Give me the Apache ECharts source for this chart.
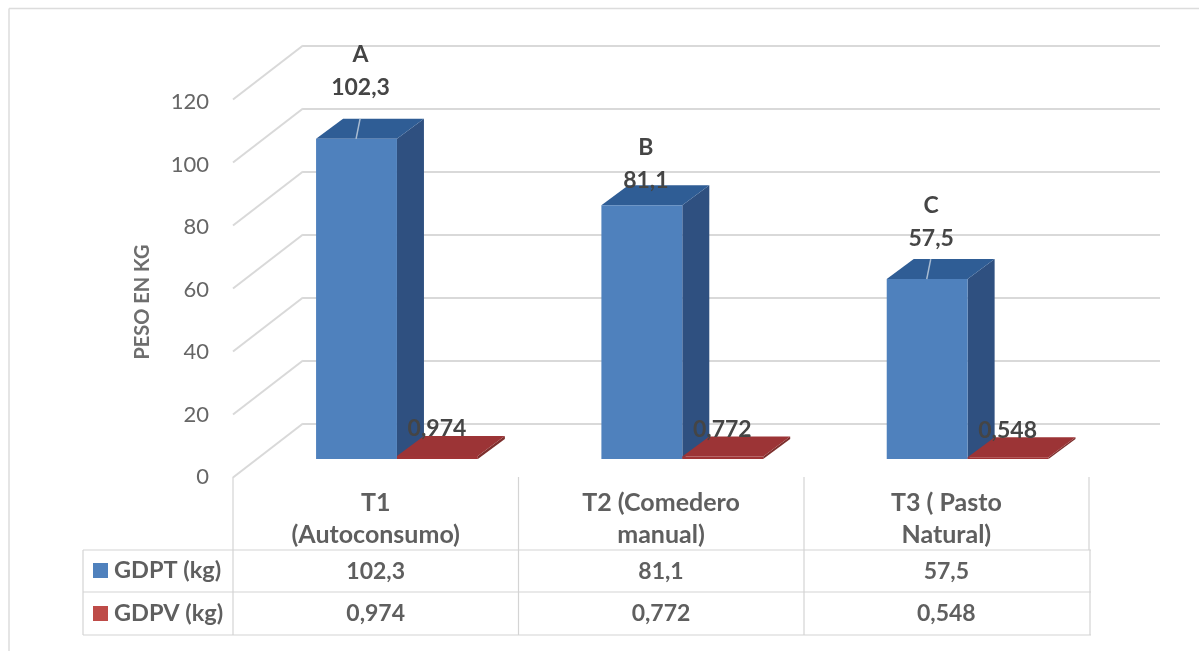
<!DOCTYPE html>
<html>
<head>
<meta charset="utf-8">
<style>html,body{margin:0;padding:0;background:#fff}#c{width:1199px;height:651px}</style>
<script src="https://cdn.jsdelivr.net/npm/echarts@6/dist/echarts.min.js"></script>
</head>
<body>
<div id="c"></div>
<script>
const categories = ['T1\n(Autoconsumo)', 'T2 (Comedero\nmanual)', 'T3 ( Pasto\nNatural)'];
const gdpt = [102.3, 81.1, 57.5];
const gdpv = [0.974, 0.772, 0.548];
const letters = ['A', 'B', 'C'];
const yTicks = [0, 20, 40, 60, 80, 100, 120];
const seriesNames = ['GDPT (kg)', 'GDPV (kg)'];
const axisTitle = 'PESO EN KG';

// layout constants (not data)
const FONT = 'Lato, "Open Sans", sans-serif';
const TXT = '#5f5f5f', DARK = '#454545', LINE = '#d9d9d9';
const DX = 27, DY = -20;
const labelLift = [51, 25, 40];
const leader = [true, false, true];
const comma = (v) => String(v).replace('.', ',');

const chart = echarts.init(document.getElementById('c'), null, {renderer: 'canvas'});

function poly(points, fill) {
  return {type: 'polygon', shape: {points}, style: {fill}};
}
function bar3d(params, api, off, colors) {
  const i = api.value(0);
  const c = api.coord([i, api.value(1)]);
  const b = api.coord([i, 0]);
  const w = api.size([1, 0])[0] * 0.2835;
  const xl = c[0] + off * w - w * 0.7368, xr = xl + w;
  const t = c[1], base = b[1];
  return {
    type: 'group',
    children: [
      poly([[xr, t], [xr + DX, t + DY], [xr + DX, base + DY], [xr, base]], colors.side),
      poly([[xl, t], [xl + DX, t + DY], [xr + DX, t + DY], [xr, t]], colors.top),
      poly([[xl, t], [xr, t], [xr, base], [xl, base]], colors.front)
    ]
  };
}

const option = {
  animation: false,
  backgroundColor: '#fff',
  grid: [
    {left: 233, width: 856, top: 102, height: 375},      // front axis + table columns
    {left: 233, width: 856, top: 83.4, height: 375.6},   // bars
    {left: 303, width: 857, top: 45.5, height: 378}      // back wall
  ],
  xAxis: [
    {gridIndex: 0, type: 'category', data: categories, axisLine: {show: false}, axisTick: {show: false},
     axisLabel: {color: TXT, fontFamily: FONT, fontSize: 25, lineHeight: 32, margin: 10, fontWeight: 'bold', interval: 0}},
    {gridIndex: 1, type: 'category', data: categories, show: false},
    {gridIndex: 2, type: 'category', data: categories, show: false}
  ],
  yAxis: [
    {gridIndex: 0, type: 'value', min: 0, max: 120, interval: 20, axisLine: {show: false}, axisTick: {show: false}, splitLine: {show: false},
     axisLabel: {color: '#666666', fontFamily: FONT, fontSize: 22, margin: 24, padding: [4, 0, 0, 0]}},
    {gridIndex: 1, type: 'value', min: 0, max: 120, interval: 20, show: false, splitLine: {show: false}},
    {gridIndex: 2, type: 'value', min: 0, max: 120, interval: 20, axisLine: {show: false}, axisTick: {show: false}, axisLabel: {show: false},
     splitLine: {show: true, lineStyle: {color: LINE, width: 2}}}
  ],
  series: [
    { // wall slants
      type: 'custom', name: 'slants', xAxisIndex: 2, yAxisIndex: 2, z: 1, silent: true,
      data: yTicks.map(v => [0, v]),
      encode: {x: 0, y: 1},
      renderItem(params, api) {
        const y = api.coord([0, api.value(1)])[1];
        const x = params.coordSys.x;
        return {type: 'line', shape: {x1: x - 70, y1: y + 54, x2: x, y2: y}, style: {stroke: LINE, lineWidth: 2}};
      }
    },
    { // GDPT bars
      type: 'custom', name: seriesNames[0], xAxisIndex: 1, yAxisIndex: 1, z: 3, silent: true,
      data: gdpt.map((v, i) => [i, v]),
      encode: {x: 0, y: 1},
      renderItem(params, api) {
        const g = bar3d(params, api, 0, {front: '#4f81bd', top: '#2f5d95', side: '#2f5080'});
        if (leader[params.dataIndex]) {
          const i = api.value(0), p = api.coord([i, api.value(1)]);
          const w = api.size([1, 0])[0] * 0.2835;
          g.children.push({type: 'line', shape: {x1: p[0] - w * 0.7368 + 40, y1: p[1], x2: p[0] - w * 0.7368 + 44, y2: p[1] + DY},
            style: {stroke: '#a9bcd2', lineWidth: 1.5}});
        }
        return g;
      }
    },
    { // GDPV bars
      type: 'custom', name: seriesNames[1], xAxisIndex: 1, yAxisIndex: 1, z: 4, silent: true,
      data: gdpv.map((v, i) => [i, v]),
      encode: {x: 0, y: 1},
      renderItem(params, api) {
        return bar3d(params, api, 1, {front: '#a03436', top: '#9c3436', side: '#7d2f2d'});
      }
    },
    { // data labels over GDPT bars
      type: 'custom', name: 'labelsT', xAxisIndex: 1, yAxisIndex: 1, z: 6, silent: true,
      data: gdpt.map((v, i) => [i, v]),
      encode: {x: 0, y: 1},
      renderItem(params, api) {
        const i = params.dataIndex, p = api.coord([i, api.value(1)]);
        const w = api.size([1, 0])[0] * 0.2835;
        const x = p[0] - w * 0.7368 + w / 2 + 4;
        const y = p[1] - labelLift[i];
        return {type: 'group', children: [
          {type: 'text', x, y: y - 33, style: {text: letters[i], font: 'bold 23px ' + FONT, fill: DARK, textAlign: 'center', textVerticalAlign: 'middle'}},
          {type: 'text', x, y, style: {text: comma(gdpt[i]), font: 'bold 23px ' + FONT, fill: DARK, textAlign: 'center', textVerticalAlign: 'middle'}}
        ]};
      }
    },
    { // data labels over GDPV bars
      type: 'custom', name: 'labelsV', xAxisIndex: 1, yAxisIndex: 1, z: 6, silent: true,
      data: gdpv.map((v, i) => [i, v]),
      encode: {x: 0, y: 1},
      renderItem(params, api) {
        const i = params.dataIndex, p = api.coord([i, api.value(1)]);
        const w = api.size([1, 0])[0] * 0.2835;
        return {type: 'text', x: p[0] + w * 0.2632 + 40, y: p[1] - 27,
          style: {text: comma(gdpv[i]), font: 'bold 23px ' + FONT, fill: DARK, textAlign: 'center', textVerticalAlign: 'middle'}};
      }
    },
    { // table cells
      type: 'custom', name: 'table', xAxisIndex: 0, yAxisIndex: 0, z: 6, silent: true,
      data: [0, 1, 2].map(i => [i, 0]),
      encode: {x: 0, y: 1},
      renderItem(params, api) {
        const i = params.dataIndex, x = api.coord([i, 0])[0];
        const st = (t) => ({text: t, font: 'bold 23px ' + FONT, fill: TXT, textAlign: 'center', textVerticalAlign: 'middle'});
        return {type: 'group', children: [
          {type: 'text', x, y: 572, style: st(comma(gdpt[i]))},
          {type: 'text', x, y: 614, style: st(comma(gdpv[i]))}
        ]};
      }
    }
  ],
  graphic: {elements: [
    // outer frame
    {type: 'line', shape: {x1: 9, y1: 8.5, x2: 1199, y2: 8.5}, style: {stroke: '#dcdcdc', lineWidth: 1.5}},
    {type: 'line', shape: {x1: 9, y1: 8.5, x2: 9, y2: 651}, style: {stroke: '#dcdcdc', lineWidth: 1.5}},
    // table rules
    ...[550, 592, 635].map(y => ({type: 'line', shape: {x1: 83, y1: y, x2: 1091, y2: y}, style: {stroke: '#d4d4d4', lineWidth: 1.2}})),
    {type: 'line', shape: {x1: 83, y1: 550, x2: 83, y2: 635}, style: {stroke: '#d4d4d4', lineWidth: 1.2}},
    {type: 'line', shape: {x1: 1090, y1: 550, x2: 1090, y2: 635}, style: {stroke: '#d4d4d4', lineWidth: 1.2}},
    ...[233, 518.5, 804, 1089].map((x, i) => ({type: 'line', shape: {x1: x, y1: 477, x2: x, y2: i === 3 ? 550 : 635}, style: {stroke: '#d4d4d4', lineWidth: 1.2}})),
    // legend keys
    {type: 'rect', shape: {x: 93, y: 563, width: 15, height: 15}, style: {fill: '#4f81bd'}},
    {type: 'rect', shape: {x: 93, y: 606, width: 15, height: 15}, style: {fill: '#be4b48'}},
    {type: 'text', x: 114, y: 570, style: {text: seriesNames[0], font: 'bold 23.5px ' + FONT, fill: TXT, textVerticalAlign: 'middle'}},
    {type: 'text', x: 114, y: 613, style: {text: seriesNames[1], font: 'bold 23.5px ' + FONT, fill: TXT, textVerticalAlign: 'middle'}},
    // axis title
    {type: 'text', x: 143, y: 302, rotation: Math.PI / 2, style: {text: axisTitle, font: 'bold 20px ' + FONT, fill: '#6e6e6e', textAlign: 'center', textVerticalAlign: 'middle'}}
  ]}
};
chart.setOption(option);
</script>
</body>
</html>
